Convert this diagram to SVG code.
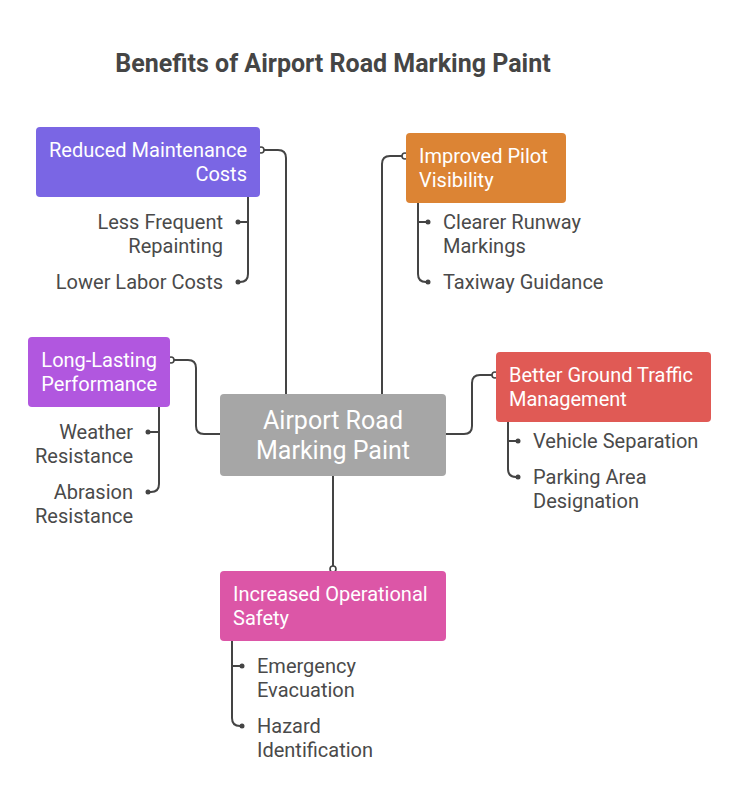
<svg xmlns="http://www.w3.org/2000/svg" width="741" height="810" viewBox="0 0 741 810">
<defs>
<style>
.title{font-family:Roboto,"Liberation Sans",sans-serif;font-size:25px;font-weight:bold;fill:#454545}
.nt{font-family:Roboto,"Liberation Sans",sans-serif;font-size:20px;fill:#ffffff}
.ct{font-family:Roboto,"Liberation Sans",sans-serif;font-size:25px;fill:#ffffff}
.lt{font-family:Roboto,"Liberation Sans",sans-serif;font-size:20px;fill:#4a4a4a}
.ln{fill:none;stroke:#444;stroke-width:2}
.oc{fill:#fff;stroke:#444;stroke-width:1.6}
.dot{fill:#444}
</style>
</defs>
<rect width="741" height="810" fill="#fff"/>
<text class="title" x="333" y="72" text-anchor="middle">Benefits of Airport Road Marking Paint</text>
<g id="connectors">
<path class="ln" d="M260,150 H278 Q286,150 286,158 V394"/>
<path class="ln" d="M406,156 H390 Q382,156 382,164 V394"/>
<path class="ln" d="M170,360 H188 Q196,360 196,368 V426 Q196,434 204,434 H220"/>
<path class="ln" d="M496,375 H480 Q472,375 472,383 V426 Q472,434 464,434 H446"/>
<path class="ln" d="M333,476 V566"/>
<circle class="oc" cx="261" cy="150" r="3"/>
<circle class="oc" cx="405" cy="156" r="3"/>
<circle class="oc" cx="171" cy="360" r="3"/>
<circle class="oc" cx="495" cy="375" r="3"/>
<circle class="oc" cx="333" cy="569" r="3"/>
<path class="ln" d="M248,197 V274 Q248,282 240,282 H238 M248,222 H238"/>
<circle class="dot" cx="238" cy="222" r="2.5"/><circle class="dot" cx="238" cy="282" r="2.5"/>
<path class="ln" d="M418,203 V274 Q418,282 426,282 H428 M418,222 H428"/>
<circle class="dot" cx="428" cy="222" r="2.5"/><circle class="dot" cx="428" cy="282" r="2.5"/>
<path class="ln" d="M159,407 V484 Q159,492 151,492 H148 M159,432 H148"/>
<circle class="dot" cx="148" cy="432" r="2.5"/><circle class="dot" cx="148" cy="492" r="2.5"/>
<path class="ln" d="M508,422 V469 Q508,477 516,477 H518 M508,441 H518"/>
<circle class="dot" cx="518" cy="441" r="2.5"/><circle class="dot" cx="518" cy="477" r="2.5"/>
<path class="ln" d="M232,641 V718 Q232,726 240,726 H242 M232,666 H242"/>
<circle class="dot" cx="242" cy="666" r="2.5"/><circle class="dot" cx="242" cy="726" r="2.5"/>
</g>
<g id="center">
<rect x="220" y="394" width="226" height="82" rx="4" fill="#a6a6a6"/>
<text class="ct" x="333" y="429" text-anchor="middle">Airport Road</text>
<text class="ct" x="333" y="459" text-anchor="middle">Marking Paint</text>
</g>
<g id="reduced-maintenance">
<rect x="36" y="127" width="224" height="70" rx="4" fill="#7a66e4"/>
<text class="nt" x="247" y="157" text-anchor="end">Reduced Maintenance</text>
<text class="nt" x="247" y="181" text-anchor="end">Costs</text>
<text class="lt" x="223" y="229" text-anchor="end">Less Frequent</text>
<text class="lt" x="223" y="253" text-anchor="end">Repainting</text>
<text class="lt" x="223" y="289" text-anchor="end">Lower Labor Costs</text>
</g>
<g id="pilot-visibility">
<rect x="406" y="133" width="160" height="70" rx="4" fill="#dc8434"/>
<text class="nt" x="419" y="163">Improved Pilot</text>
<text class="nt" x="419" y="187">Visibility</text>
<text class="lt" x="443" y="229">Clearer Runway</text>
<text class="lt" x="443" y="253">Markings</text>
<text class="lt" x="443" y="289">Taxiway Guidance</text>
</g>
<g id="long-lasting">
<rect x="28" y="337" width="142" height="70" rx="4" fill="#b157df"/>
<text class="nt" x="157" y="367" text-anchor="end">Long-Lasting</text>
<text class="nt" x="157" y="391" text-anchor="end">Performance</text>
<text class="lt" x="133" y="439" text-anchor="end">Weather</text>
<text class="lt" x="133" y="463" text-anchor="end">Resistance</text>
<text class="lt" x="133" y="499" text-anchor="end">Abrasion</text>
<text class="lt" x="133" y="523" text-anchor="end">Resistance</text>
</g>
<g id="ground-traffic">
<rect x="496" y="352" width="215" height="70" rx="4" fill="#e05a55"/>
<text class="nt" x="509" y="382">Better Ground Traffic</text>
<text class="nt" x="509" y="406">Management</text>
<text class="lt" x="533" y="448">Vehicle Separation</text>
<text class="lt" x="533" y="484">Parking Area</text>
<text class="lt" x="533" y="508">Designation</text>
</g>
<g id="operational-safety">
<rect x="220" y="571" width="226" height="70" rx="4" fill="#dc56a7"/>
<text class="nt" x="233" y="601">Increased Operational</text>
<text class="nt" x="233" y="625">Safety</text>
<text class="lt" x="257" y="673">Emergency</text>
<text class="lt" x="257" y="697">Evacuation</text>
<text class="lt" x="257" y="733">Hazard</text>
<text class="lt" x="257" y="757">Identification</text>
</g>
</svg>
